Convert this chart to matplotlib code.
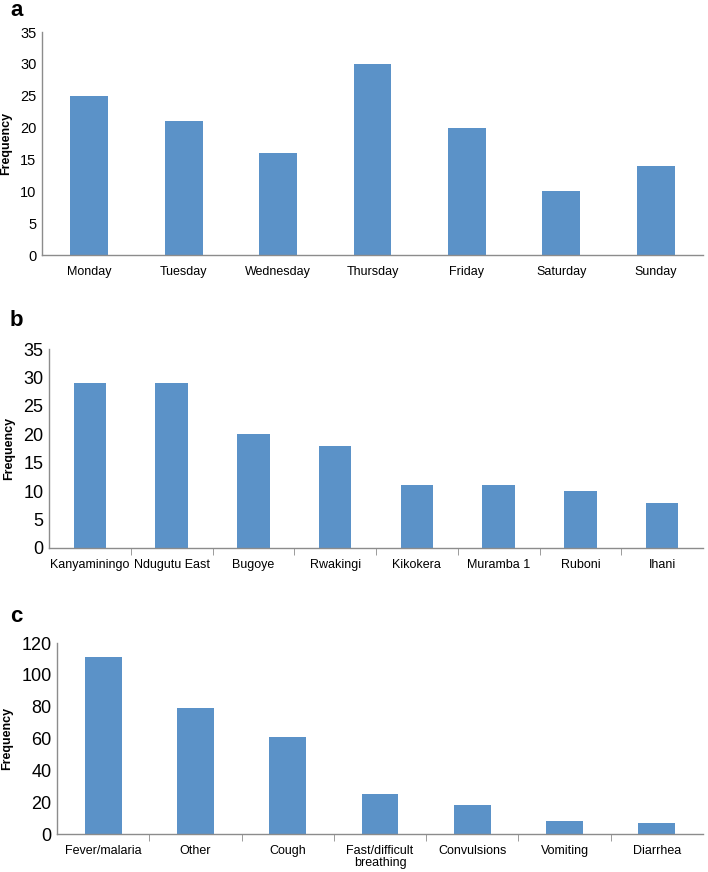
import numpy as np
import matplotlib
matplotlib.use('Agg')
import matplotlib.pyplot as plt

plt.rcParams['font.family'] = ['Liberation Sans', 'DejaVu Sans']

# panel a: day of week
days = ['Monday', 'Tuesday', 'Wednesday', 'Thursday', 'Friday', 'Saturday', 'Sunday']
day_freq = [25, 21, 16, 30, 20, 10, 14]

# panel b: village
villages = ['Kanyaminingo', 'Ndugutu East', 'Bugoye', 'Rwakingi', 'Kikokera',
            'Muramba 1', 'Ruboni', 'Ihani']
village_freq = [29, 29, 20, 18, 11, 11, 10, 8]

# panel c: symptom
symptoms = ['Fever/malaria', 'Other', 'Cough', 'Fast/difficult\nbreathing',
            'Convulsions', 'Vomiting', 'Diarrhea']
symptom_freq = [111, 79, 61, 25, 18, 8, 7]

bar_color = '#5b92c8'
axis_color = '#8c8c8c'

fig = plt.figure(figsize=(7.08, 8.72), dpi=100)
W, H = 708, 872


def add_ax(left, top, bottom, right=703):
    return fig.add_axes([left / W, 1 - bottom / H, (right - left) / W, (bottom - top) / H])


def style(ax, cats, vals, ymax, step, ytick_size, xtick_size, xticks_between):
    x = np.arange(len(cats))
    ax.bar(x, vals, width=0.4, color=bar_color, zorder=2)
    ax.set_xlim(-0.5, len(cats) - 0.5)
    ax.set_ylim(0, ymax)
    ax.set_yticks(np.arange(0, ymax + 1, step))
    for s in ['top', 'right']:
        ax.spines[s].set_visible(False)
    for s in ['left', 'bottom']:
        ax.spines[s].set_color(axis_color)
        ax.spines[s].set_linewidth(1.0)
    ax.tick_params(axis='y', length=0, labelsize=ytick_size, pad=4)
    ax.set_xticks(x)
    ax.set_xticklabels(cats, fontsize=xtick_size, linespacing=1.0)
    ax.tick_params(axis='x', length=0, pad=8)
    if xticks_between:
        ax.set_xticks(np.arange(0.5, len(cats) - 0.5, 1), minor=True)
        ax.tick_params(axis='x', which='minor', length=5, direction='out', color=axis_color)
    ax.set_ylabel('Frequency', fontsize=9, fontweight='bold', labelpad=6)


ax1 = add_ax(42, 32, 255)
style(ax1, days, day_freq, 35, 5, 10.5, 9, False)
fig.text(10 / W, 1 - 11 / H, 'a', fontsize=16, fontweight='bold', va='center')

ax2 = add_ax(49, 349, 548)
style(ax2, villages, village_freq, 35, 5, 13, 9, True)
fig.text(10 / W, 1 - 320 / H, 'b', fontsize=16, fontweight='bold', va='center')

ax3 = add_ax(57, 643, 834)
style(ax3, symptoms, symptom_freq, 120, 20, 13, 9, True)
fig.text(10 / W, 1 - 616 / H, 'c', fontsize=16, fontweight='bold', va='center')

plt.savefig('out.png', dpi=100)
